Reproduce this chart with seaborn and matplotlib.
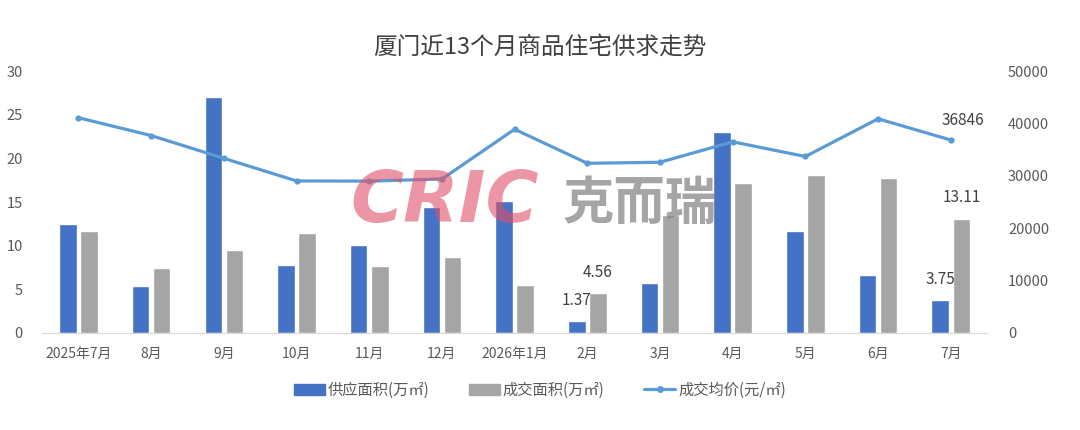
import numpy as np
import pandas as pd
import matplotlib.pyplot as plt
import seaborn as sns
from matplotlib.patches import Patch
from matplotlib.lines import Line2D

months = ["2025年7月", "8月", "9月", "10月", "11月", "12月", "2026年1月",
          "2月", "3月", "4月", "5月", "6月", "7月"]
supply = [12.43, 5.41, 27.0, 7.74, 10.1, 14.45, 15.1, 1.37, 5.76, 23.03, 11.67, 6.63, 3.75]
deal = [11.63, 7.43, 9.53, 11.44, 7.62, 8.65, 5.53, 4.56, 13.5, 17.19, 18.1, 17.76, 13.11]
price = [41100, 37700, 33350, 29030, 29000, 29400, 38900, 32400, 32600, 36500, 33700, 40900, 36846]

label_supply = "供应面积(万㎡)"
label_deal = "成交面积(万㎡)"
label_price = "成交均价(元/㎡)"

blue = "#4472C4"
gray = "#A5A5A5"
line_c = "#5B9BD5"
txt_c = "#595959"

sns.set_style("white")
plt.rcParams['font.family'] = ['Noto Sans CJK SC', 'DejaVu Sans']

fig = plt.figure(figsize=(10.8, 4.3), dpi=100)
ax = fig.add_axes([0.039, 0.2256, 0.875, 0.609])

df = pd.DataFrame({
    "月份": months * 2,
    "面积": supply + deal,
    "系列": [label_supply] * len(months) + [label_deal] * len(months),
})
sns.barplot(data=df, x="月份", y="面积", hue="系列", palette=[blue, gray],
            width=0.58, gap=0.17, saturation=1, legend=False, ax=ax)

ax2 = ax.twinx()
sns.lineplot(x=np.arange(len(months)), y=price, ax=ax2, color=line_c,
             linewidth=2.3, marker="o", markersize=4.5, markeredgewidth=0)

ax.set_xlim(-0.5, len(months) - 0.5)
ax.set_ylim(0, 30)
ax.set_yticks(range(0, 31, 5))
ax2.set_ylim(0, 50000)
ax2.set_yticks(range(0, 50001, 10000))
ax.set_xlabel("")
ax.set_ylabel("")

for a in (ax, ax2):
    for s in a.spines.values():
        s.set_visible(False)
    a.tick_params(length=0, labelsize=10.5, labelcolor=txt_c)
ax.spines["bottom"].set_visible(True)
ax.spines["bottom"].set_color("#D9D9D9")
ax.tick_params(axis="y", pad=14)
ax.tick_params(axis="x", pad=10, labelsize=10)
ax2.tick_params(axis="y", pad=15)

# data labels
for idx, series in ((7, 0), (7, 1), (12, 0), (12, 1)):
    bar = ax.containers[series][idx]
    ax.annotate(f"{bar.get_height():.2f}",
                xy=(bar.get_x() + bar.get_width() / 2, bar.get_height()),
                xytext=(0, 9), textcoords="offset points",
                ha="center", va="bottom", fontsize=11, color="#404040")
ax2.annotate(f"{price[-1]}", xy=(len(months) - 1, price[-1]), xytext=(9, 8),
             textcoords="offset points", ha="center", va="bottom",
             fontsize=11, color="#404040")

# watermark
fig.text(0.324, 0.528, "CRIC", fontsize=52, fontweight="bold", style="italic",
         family="DejaVu Sans", color="#E0506A", alpha=0.6, va="center", zorder=10)
fig.text(0.521, 0.528, "克而瑞", fontsize=37, fontweight="bold",
         color="#7F7F7F", alpha=0.7, va="center", zorder=10)

fig.suptitle("厦门近13个月商品住宅供求走势", y=0.918, fontsize=17, color="#404040")

handles = [Patch(color=blue), Patch(color=gray),
           Line2D([], [], color=line_c, linewidth=2.3, marker="o", markersize=4)]
fig.legend(handles, [label_supply, label_deal, label_price], loc="center",
           bbox_to_anchor=(0.5, 0.093), ncol=3, frameon=False, fontsize=11,
           columnspacing=2.6, handlelength=2.0, handletextpad=0.2,
           labelcolor=txt_c)

fig.savefig("out.png", dpi=100)
